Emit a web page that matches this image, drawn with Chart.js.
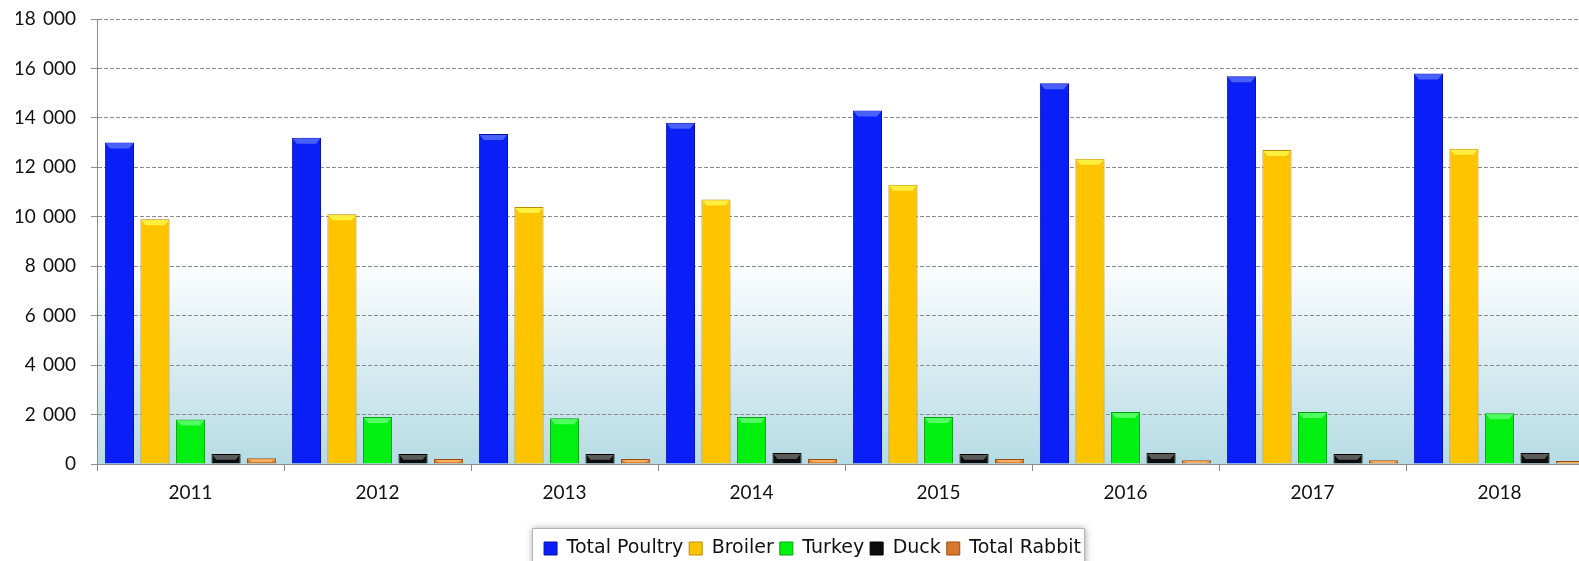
<!DOCTYPE html>
<html lang="en">
<head>
    <meta charset="UTF-8">
    <title>Poultry and Rabbit</title>
    <script src="https://cdn.jsdelivr.net/npm/chart.js"></script>
    <style>
        body { margin: 0; overflow: hidden; background: #fff; }
        #wrap { position: absolute; left: 0; top: 0; width: 1600px; height: 561px; }
    </style>
</head>
<body>
    <div id="wrap"><canvas id="chart"></canvas></div>

    <script>
        // Data
        var years = ['2011', '2012', '2013', '2014', '2015', '2016', '2017', '2018'];
        var totalPoultry = [13000, 13200, 13350, 13800, 14300, 15400, 15680, 15800];
        var broiler = [9900, 10100, 10400, 10700, 11300, 12350, 12700, 12750];
        var turkey = [1800, 1900, 1850, 1900, 1900, 2100, 2100, 2050];
        var duck = [400, 400, 400, 450, 400, 450, 400, 450];
        var totalRabbit = [230, 200, 200, 200, 200, 150, 150, 120];
        var yTicks = [0, 2000, 4000, 6000, 8000, 10000, 12000, 14000, 16000, 18000];

        // bar colours: body, border, top cap
        var seriesStyle = [
            { fill: '#0a1ef8', border: '#0612b0', cap: '#4a60ff' },
            { fill: '#ffc400', border: '#b88a00', cap: '#fff040' },
            { fill: '#00f010', border: '#00a00a', cap: '#50ff60' },
            { fill: '#0c0c0c', border: '#000000', cap: '#5a5a5a' },
            { fill: '#d8782a', border: '#9a4c12', cap: '#f6b060' }
        ];

        // thousands with a space, as in the source
        function fmt(v) {
            return String(v).replace(/\B(?=(\d{3})+(?!\d))/g, ' \u2009');
        }

        function makeSet(label, data, i) {
            return {
                label: label,
                data: data,
                backgroundColor: seriesStyle[i].fill,
                borderColor: seriesStyle[i].border,
                borderWidth: 1,
                categoryPercentage: 0.95,
                barPercentage: 0.82
            };
        }

        // plot background gradient and legend frame
        var backdrop = {
            id: 'backdrop',
            afterUpdate: function (chart) {
                // legend sits a little right of the canvas centre
                var L = chart.legend;
                L.left += 8;
                L.right += 8;
                L.legendHitBoxes.forEach(function (h) { h.left += 8; });
            },
            beforeDraw: function (chart) {
                var ctx = chart.ctx, a = chart.chartArea, y = chart.scales.y;
                var y8 = y.getPixelForValue(8000);
                var g = ctx.createLinearGradient(0, y8, 0, a.bottom);
                g.addColorStop(0, '#fbfdfe');
                g.addColorStop(1, '#b6dbe4');
                ctx.save();
                ctx.fillStyle = g;
                ctx.fillRect(a.left, y8, a.right - a.left, a.bottom - y8);

                var boxes = chart.legend.legendHitBoxes;
                if (boxes && boxes.length) {
                    var first = boxes[0], last = boxes[boxes.length - 1];
                    var x0 = first.left - 12, x1 = last.left + last.width + 3;
                    var y0 = first.top - 11;
                    ctx.shadowColor = 'rgba(0,0,0,0.4)';
                    ctx.shadowBlur = 7;
                    ctx.shadowOffsetX = 1;
                    ctx.shadowOffsetY = 1;
                    ctx.fillStyle = '#fff';
                    ctx.fillRect(x0, y0, x1 - x0, 60);
                    ctx.shadowColor = 'transparent';
                    ctx.strokeStyle = '#b4b4b4';
                    ctx.lineWidth = 1;
                    ctx.strokeRect(x0 + 0.5, y0 + 0.5, x1 - x0, 60);
                }
                ctx.restore();
            }
        };

        // bevelled top cap on each bar
        var bevel = {
            id: 'bevel',
            afterDatasetsDraw: function (chart) {
                var ctx = chart.ctx;
                ctx.save();
                chart.data.datasets.forEach(function (ds, i) {
                    chart.getDatasetMeta(i).data.forEach(function (bar) {
                        var half = bar.width / 2, h = Math.min(5, (bar.base - bar.y) / 2);
                        ctx.fillStyle = seriesStyle[i].cap;
                        ctx.beginPath();
                        ctx.moveTo(bar.x - half + 1, bar.y + 1);
                        ctx.lineTo(bar.x + half - 1, bar.y + 1);
                        ctx.lineTo(bar.x + half - 5, bar.y + 1 + h);
                        ctx.lineTo(bar.x - half + 5, bar.y + 1 + h);
                        ctx.closePath();
                        ctx.fill();
                    });
                });
                ctx.restore();
            }
        };

        new Chart(document.getElementById('chart'), {
            type: 'bar',
            data: {
                labels: years,
                datasets: [
                    makeSet('Total Poultry', totalPoultry, 0),
                    makeSet('Broiler', broiler, 1),
                    makeSet('Turkey', turkey, 2),
                    makeSet('Duck', duck, 3),
                    makeSet('Total Rabbit', totalRabbit, 4)
                ]
            },
            options: {
                responsive: true,
                maintainAspectRatio: false,
                animation: false,
                layout: { padding: { left: 16, right: 7, top: 19, bottom: -7 } },
                plugins: {
                    tooltip: { enabled: false },
                    legend: {
                        position: 'bottom',
                        labels: {
                            boxWidth: 13,
                            boxHeight: 13,
                            padding: 6,
                            color: '#111',
                            font: { family: 'DejaVu Sans', size: 19 }
                        }
                    }
                },
                scales: {
                    x: {
                        grid: { display: true, drawOnChartArea: false, drawTicks: true, tickLength: 7, offset: true, color: '#888' },
                        border: { display: true, color: '#8a8a8a', width: 1 },
                        ticks: { padding: 10, color: '#111', font: { family: 'Lato', size: 19 } },
                        afterFit: function (s) { s.height = 69; }
                    },
                    y: {
                        min: 0,
                        max: yTicks[yTicks.length - 1],
                        afterBuildTicks: function (s) {
                            s.ticks = yTicks.map(function (v) { return { value: v }; });
                        },
                        grid: { color: '#8c8c8c', tickLength: 6, tickColor: '#8c8c8c' },
                        border: { display: true, color: '#8a8a8a', dash: [4, 2] },
                        ticks: {
                            padding: 15,
                            color: '#111',
                            font: { family: 'Lato', size: 19 },
                            callback: function (v) { return fmt(v); }
                        },
                        afterFit: function (s) {
                            s.width = 81;
                            s.paddingTop = 0;
                            s.paddingBottom = 0;
                        }
                    }
                }
            },
            plugins: [backdrop, bevel]
        });
    </script>
</body>
</html>
